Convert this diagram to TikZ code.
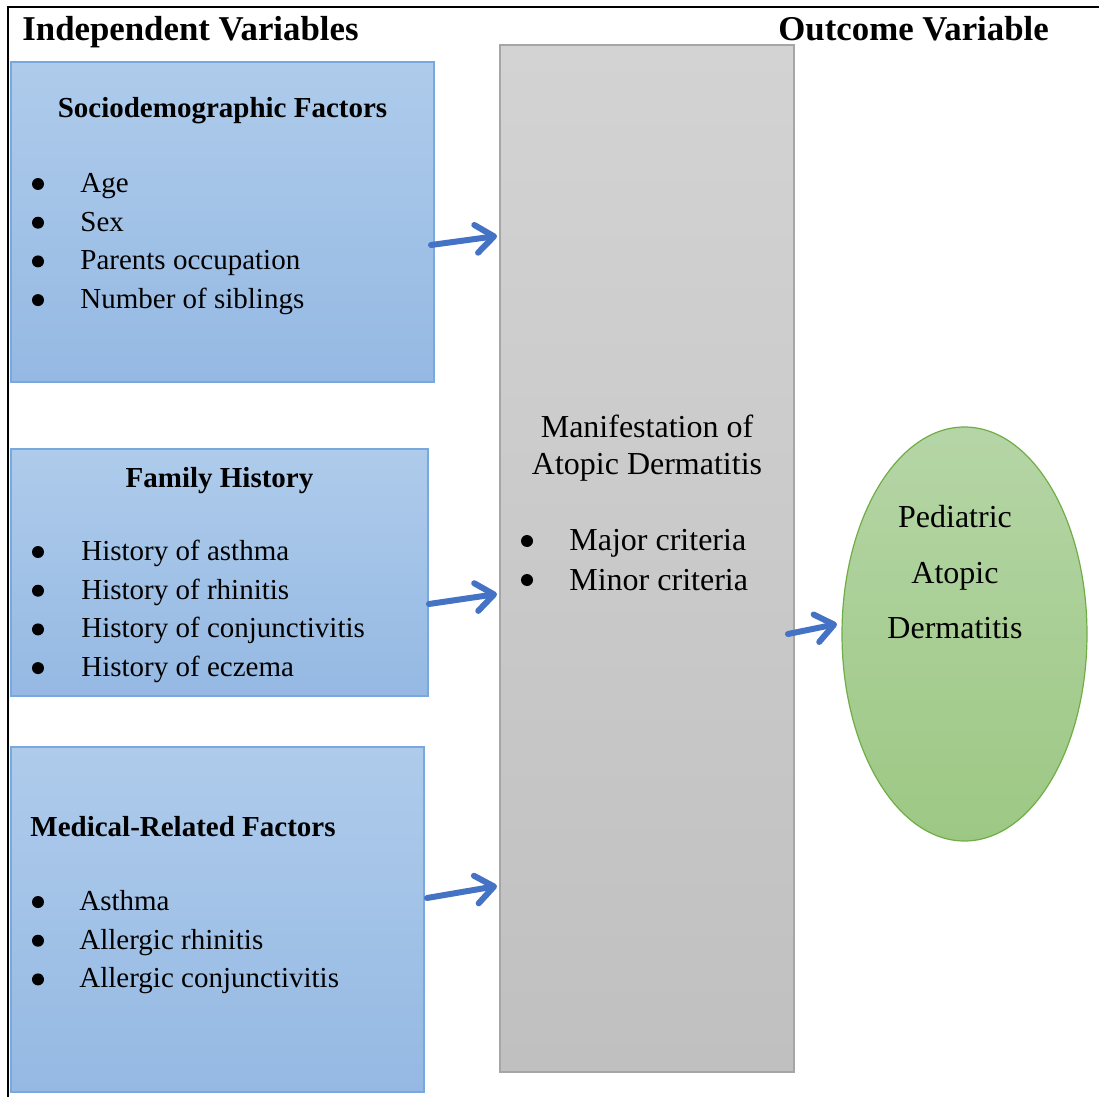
\documentclass[tikz,border=0pt]{standalone}
\usepackage{fontspec}
\setmainfont{Liberation Serif}
\usepackage{xcolor}
\usepackage{tikz}
\usetikzlibrary{arrows.meta, positioning, calc, shapes.geometric}
\definecolor{factortop}{RGB}{174, 203, 235}
\definecolor{factorbottom}{RGB}{149, 185, 227}
\definecolor{factorline}{RGB}{120, 168, 222}
\definecolor{mantop}{RGB}{211, 211, 211}
\definecolor{manbottom}{RGB}{192, 192, 192}
\definecolor{manline}{RGB}{166, 166, 166}
\definecolor{outtop}{RGB}{181, 213, 166}
\definecolor{outbottom}{RGB}{157, 200, 132}
\definecolor{outline}{RGB}{112, 173, 71}
\definecolor{arrowblue}{RGB}{68, 114, 196}

\begin{document}
\begin{tikzpicture}[x=0.5pt, y=-0.5pt,
    factorbox/.style={draw=factorline, line width=0.6pt, top color=factortop, bottom color=factorbottom, inner sep=0pt, outer sep=0pt},
    bodytext/.style={font=\fontsize{14.5}{19}\selectfont, inner sep=0pt},
    bigtext/.style={font=\fontsize{16}{20}\selectfont, inner sep=0pt},
    titletext/.style={font=\fontsize{14.5}{19}\selectfont\bfseries, inner sep=0pt},
    headtext/.style={font=\fontsize{17.4}{20}\selectfont\bfseries, inner sep=0pt, anchor=base west},
    listitem/.style={bodytext, anchor=base west},
    linkarrow/.style={-{Straight Barb[length=9pt, width=14pt, round]}, line width=3pt, line cap=round, arrowblue}]
    \useasboundingbox (0,0) rectangle (1099,1097);
    \draw[line width=1pt] (8,1097) -- (8,7) -- (1099,7);

    \node[headtext] (indep) at (22,41) {Independent Variables};
    \node[headtext] (outc) at (778,41) {Outcome Variable};

    \node[factorbox, minimum width=211.5pt, minimum height=160pt] (socio) at (222.5,222) {};
    \node[titletext, anchor=base] (socio-title) at (222.5,118) {Sociodemographic Factors};
    \foreach \t [count=\i from 0] in {Age, Sex, Parents occupation, Number of siblings} {
        \fill (38,{184+38.7*\i}) circle (6);
        \node[listitem] (socio-\i) at (80,{192.5+38.7*\i}) {\t};
    }

    \node[factorbox, minimum width=208.5pt, minimum height=123.5pt] (family) at (219.5,572.5) {};
    \node[titletext, anchor=base] (family-title) at (219.5,487) {Family History};
    \foreach \t [count=\i from 0] in {History of asthma, History of rhinitis, History of conjunctivitis, History of eczema} {
        \fill (38,{552+38.7*\i}) circle (6);
        \node[listitem] (family-\i) at (81,{560.5+38.7*\i}) {\t};
    }

    \node[factorbox, minimum width=206.5pt, minimum height=172.5pt] (medical) at (217.5,919.5) {};
    \node[titletext, anchor=base west] (medical-title) at (30,836) {Medical-Related Factors};
    \foreach \t [count=\i from 0] in {Asthma, Allergic rhinitis, Allergic conjunctivitis} {
        \fill (38,{902+38.7*\i}) circle (6);
        \node[listitem] (medical-\i) at (79,{910.5+38.7*\i}) {\t};
    }

    \node[draw=manline, line width=0.6pt, top color=mantop, bottom color=manbottom, inner sep=0pt, outer sep=0pt,
        minimum width=147pt, minimum height=513.5pt] (manif) at (647,558.5) {};
    \node[bigtext, anchor=base] (manif-l1) at (647,437) {Manifestation of};
    \node[bigtext, anchor=base] (manif-l2) at (647,474) {Atopic Dermatitis};
    \fill (527,541) circle (6);
    \node[bigtext, anchor=base west] (manif-0) at (569,550) {Major criteria};
    \fill (527,580) circle (6);
    \node[bigtext, anchor=base west] (manif-1) at (569,590) {Minor criteria};

    \node[ellipse, draw=outline, line width=0.6pt, top color=outtop, bottom color=outbottom, inner sep=0pt, outer sep=0pt,
        minimum width=122.5pt, minimum height=207pt] (pad) at (964.5,634) {};
    \node[bigtext, anchor=base] (pad-l1) at (955,527) {Pediatric};
    \node[bigtext, anchor=base] (pad-l2) at (955,583) {Atopic};
    \node[bigtext, anchor=base] (pad-l3) at (955,638) {Dermatitis};

    \draw[linkarrow] ($(socio.east)+(-3,23)$) -- ($(manif.west)+(-3,-322.5)$);
    \draw[linkarrow] ($(family.east)+(1,31.5)$) -- ($(manif.west)+(-3,35.5)$);
    \draw[linkarrow] ($(medical.east)+(3,-21.5)$) -- ($(manif.west)+(-3,327.5)$);
    \draw[linkarrow] ($(manif.east)+(-6,75.5)$) -- ($(pad.west)+(-5,-10)$);
\end{tikzpicture}
\end{document}
